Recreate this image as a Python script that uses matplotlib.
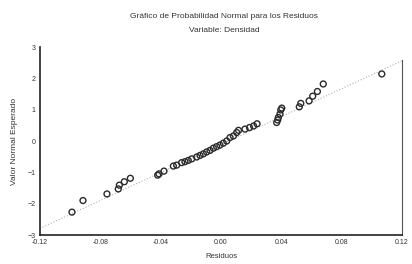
"""Normal probability plot of the residuals (Variable: Densidad)."""
import matplotlib
matplotlib.use("Agg")
import matplotlib.pyplot as plt

plt.rcParams["font.family"] = ["Liberation Sans", "DejaVu Sans"]

# residuals (sorted) and their expected normal values
residuos = [-0.0988, -0.0915, -0.0756, -0.0681, -0.0674, -0.0641, -0.0601,
            -0.0420, -0.0411, -0.0378, -0.0316, -0.0294, -0.0261, -0.0239,
            -0.0217, -0.0194, -0.0161, -0.0139, -0.0117, -0.0095, -0.0073,
            -0.0051, -0.0029, -0.0007, 0.0015, 0.0038, 0.0060, 0.0082,
            0.0104, 0.0116, 0.0159, 0.0189, 0.0216, 0.0239, 0.0369, 0.0376,
            0.0380, 0.0391, 0.0396, 0.0403, 0.0519, 0.0529, 0.0584, 0.0608,
            0.0639, 0.0678, 0.1066]
esperado = [-2.27, -1.90, -1.69, -1.53, -1.41, -1.30, -1.19, -1.09, -1.05,
            -0.96, -0.80, -0.77, -0.69, -0.66, -0.62, -0.57, -0.51, -0.46,
            -0.41, -0.35, -0.30, -0.23, -0.18, -0.13, -0.07, 0.00, 0.11,
            0.16, 0.27, 0.34, 0.38, 0.43, 0.48, 0.55, 0.59, 0.67, 0.75, 0.86,
            0.99, 1.05, 1.09, 1.20, 1.28, 1.43, 1.58, 1.82, 2.14]

# reference line endpoints
ref_x = [-0.12, 0.12]
ref_y = [-2.79, 2.56]

x_ticks = [-0.12, -0.08, -0.04, 0.00, 0.04, 0.08, 0.12]
x_labels = ["-0.12", "-0.08", "-0.04", "0.00", "0.04", "0.08", "0.12"]
y_ticks = [-3, -2, -1, 0, 1, 2, 3]

fig = plt.figure(figsize=(4.12, 2.64), dpi=100)
ax = fig.add_axes([40 / 412, 1 - 235 / 264, 362 / 412, 188 / 264])

ax.plot(ref_x, ref_y, ls=":", color="#b0b0b0", lw=0.8, zorder=1)
ax.scatter(residuos, esperado, s=18, facecolors="none", edgecolors="#2a2a2a",
           linewidths=1.0, zorder=2)

ax.set_xlim(-0.12, 0.12)
ax.set_ylim(-3, 3)
ax.set_xticks(x_ticks)
ax.set_xticklabels(x_labels)
ax.set_yticks(y_ticks)
ax.tick_params(length=0, labelsize=5, colors="#333333", pad=3)

ax.spines["top"].set_visible(False)
ax.spines["right"].set_bounds(-3, 2.6)
for side in ("left", "bottom"):
    ax.spines[side].set_linewidth(1.2)
    ax.spines[side].set_color("#222222")
ax.spines["right"].set_linewidth(0.8)
ax.spines["right"].set_color("#555555")

ax.set_xlabel("Residuos", fontsize=5.5, color="#333333", labelpad=5)
ax.set_ylabel("Valor Normal Esperado", fontsize=6, color="#333333", labelpad=7)

fig.text(224 / 412, 1 - 17 / 264, "Gráfico de Probabilidad Normal para los Residuos",
         ha="center", va="center", fontsize=6, color="#333333")
fig.text(224 / 412, 1 - 30 / 264, "Variable: Densidad",
         ha="center", va="center", fontsize=6, color="#333333")

fig.savefig("out.png", dpi=100)
